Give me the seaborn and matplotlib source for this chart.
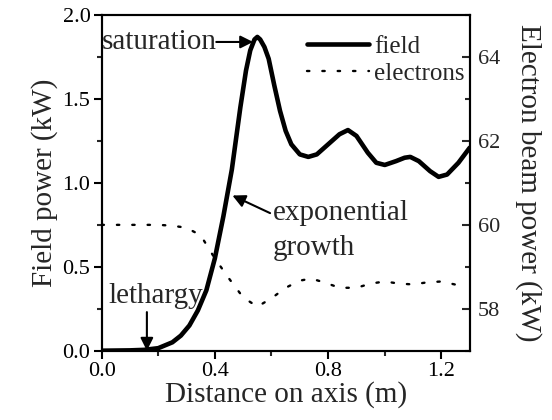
import matplotlib
matplotlib.use("Agg")
import matplotlib.pyplot as plt
from matplotlib.ticker import MultipleLocator, FormatStrFormatter
import seaborn as sns
import pandas as pd

# field power along the axis (kW)
field_z = [0.00, 0.10, 0.15, 0.20, 0.25, 0.28, 0.31, 0.34, 0.37, 0.40, 0.43,
           0.46, 0.49, 0.51, 0.525, 0.54, 0.55, 0.56, 0.575, 0.59, 0.61, 0.63,
           0.65, 0.67, 0.70, 0.73, 0.76, 0.80, 0.84, 0.87, 0.90, 0.94, 0.97,
           1.00, 1.04, 1.07, 1.09, 1.12, 1.16, 1.19, 1.22, 1.26, 1.30]
field_p = [0.000, 0.002, 0.005, 0.015, 0.05, 0.09, 0.15, 0.24, 0.36, 0.55, 0.80,
           1.08, 1.45, 1.67, 1.79, 1.855, 1.87, 1.855, 1.81, 1.74, 1.58, 1.43,
           1.31, 1.23, 1.17, 1.155, 1.17, 1.23, 1.29, 1.315, 1.28, 1.18, 1.12,
           1.107, 1.13, 1.15, 1.155, 1.13, 1.07, 1.036, 1.05, 1.12, 1.21]

# electron beam power (kW)
elec_z = [0.00, 0.10, 0.20, 0.25, 0.30, 0.35, 0.40, 0.45, 0.50, 0.55, 0.60,
          0.65, 0.70, 0.74, 0.79, 0.84, 0.90, 0.95, 1.00, 1.05, 1.10, 1.15,
          1.20, 1.26]
elec_p = [60.0, 60.0, 60.0, 59.98, 59.93, 59.75, 59.2, 58.72, 58.27, 58.05, 58.25,
          58.5, 58.67, 58.72, 58.62, 58.5, 58.5, 58.6, 58.65, 58.6, 58.58, 58.63,
          58.65, 58.56]

field_df = pd.DataFrame({"z": field_z, "p": field_p})
elec_df = pd.DataFrame({"z": elec_z, "p": elec_p})

sns.set_style("ticks")
plt.rcParams["font.family"] = ["Liberation Serif", "DejaVu Serif"]

fig, ax = plt.subplots(figsize=(5.52, 4.2), dpi=100)
fig.subplots_adjust(left=0.184, right=0.851, bottom=0.165, top=0.964)
ax2 = ax.twinx()

sns.lineplot(data=field_df, x="z", y="p", ax=ax, color="black", lw=3.3,
             label="field", legend=False)
sns.lineplot(data=elec_df, x="z", y="p", ax=ax2, color="black", lw=1.7,
             label="electrons", legend=False)
ax.lines[0].set_solid_joinstyle("round")
ax2.lines[0].set_dashes((1.0, 5.5))
ax2.lines[0].set_dash_capstyle("round")

ax.set_xlim(0, 1.3)
ax.set_ylim(0, 2.0)
ax2.set_ylim(57, 65)

ax.xaxis.set_major_locator(MultipleLocator(0.4))
ax.xaxis.set_minor_locator(MultipleLocator(0.2))
ax.yaxis.set_major_locator(MultipleLocator(0.5))
ax.yaxis.set_minor_locator(MultipleLocator(0.25))
ax.xaxis.set_major_formatter(FormatStrFormatter("%.1f"))
ax.yaxis.set_major_formatter(FormatStrFormatter("%.1f"))
ax2.yaxis.set_major_locator(MultipleLocator(2))
ax2.yaxis.set_minor_locator(MultipleLocator(1))

for a in (ax, ax2):
    for s in a.spines.values():
        s.set_linewidth(1.5)
        s.set_color("black")
        s.set_visible(True)

ax.tick_params(axis="both", which="major", direction="out", length=6, width=1.5,
               labelsize=16, pad=2, colors="black")
ax.tick_params(axis="both", which="minor", direction="out", length=3.5, width=1.5)
ax2.tick_params(axis="x", which="both", top=True, bottom=False, direction="in",
                length=2.5, width=1.2)
ax2.tick_params(axis="y", which="major", direction="in", length=6, width=1.5,
                labelsize=16, pad=6)
ax2.tick_params(axis="y", which="minor", direction="in", length=3.5, width=1.5)

ax.set_xlabel("Distance on axis (m)", fontsize=21, labelpad=0)
ax.set_ylabel("Field power (kW)", fontsize=21, labelpad=3)
ax2.set_ylabel("Electron beam power (kW)", fontsize=21, rotation=270, labelpad=30)

arrow = dict(arrowstyle="-|>", color="black", lw=1.5, mutation_scale=19,
             shrinkA=0, shrinkB=0)
ax.annotate("", xy=(0.535, 1.84), xytext=(0.405, 1.84), arrowprops=arrow)
ax.text(0.405, 1.84, "saturation", fontsize=21, ha="right", va="center")
ax.annotate("", xy=(0.462, 0.925), xytext=(0.595, 0.82), arrowprops=arrow)
ax.text(0.605, 0.82, "exponential", fontsize=21, ha="left", va="center")
ax.text(0.605, 0.61, "growth", fontsize=21, ha="left", va="center")
ax.annotate("", xy=(0.16, 0.0), xytext=(0.16, 0.23), arrowprops=arrow)
ax.text(0.19, 0.325, "lethargy", fontsize=21, ha="center", va="center")

handles = ax.lines[:1] + ax2.lines[:1]
ax2.legend(handles, ["field", "electrons"], loc="upper right",
           bbox_to_anchor=(1.0, 0.955), frameon=False,
           fontsize=18, handlelength=2.5, handletextpad=0.2, labelspacing=0.2,
           borderpad=0.2, borderaxespad=0.0)

fig.savefig("out.png", dpi=100)
